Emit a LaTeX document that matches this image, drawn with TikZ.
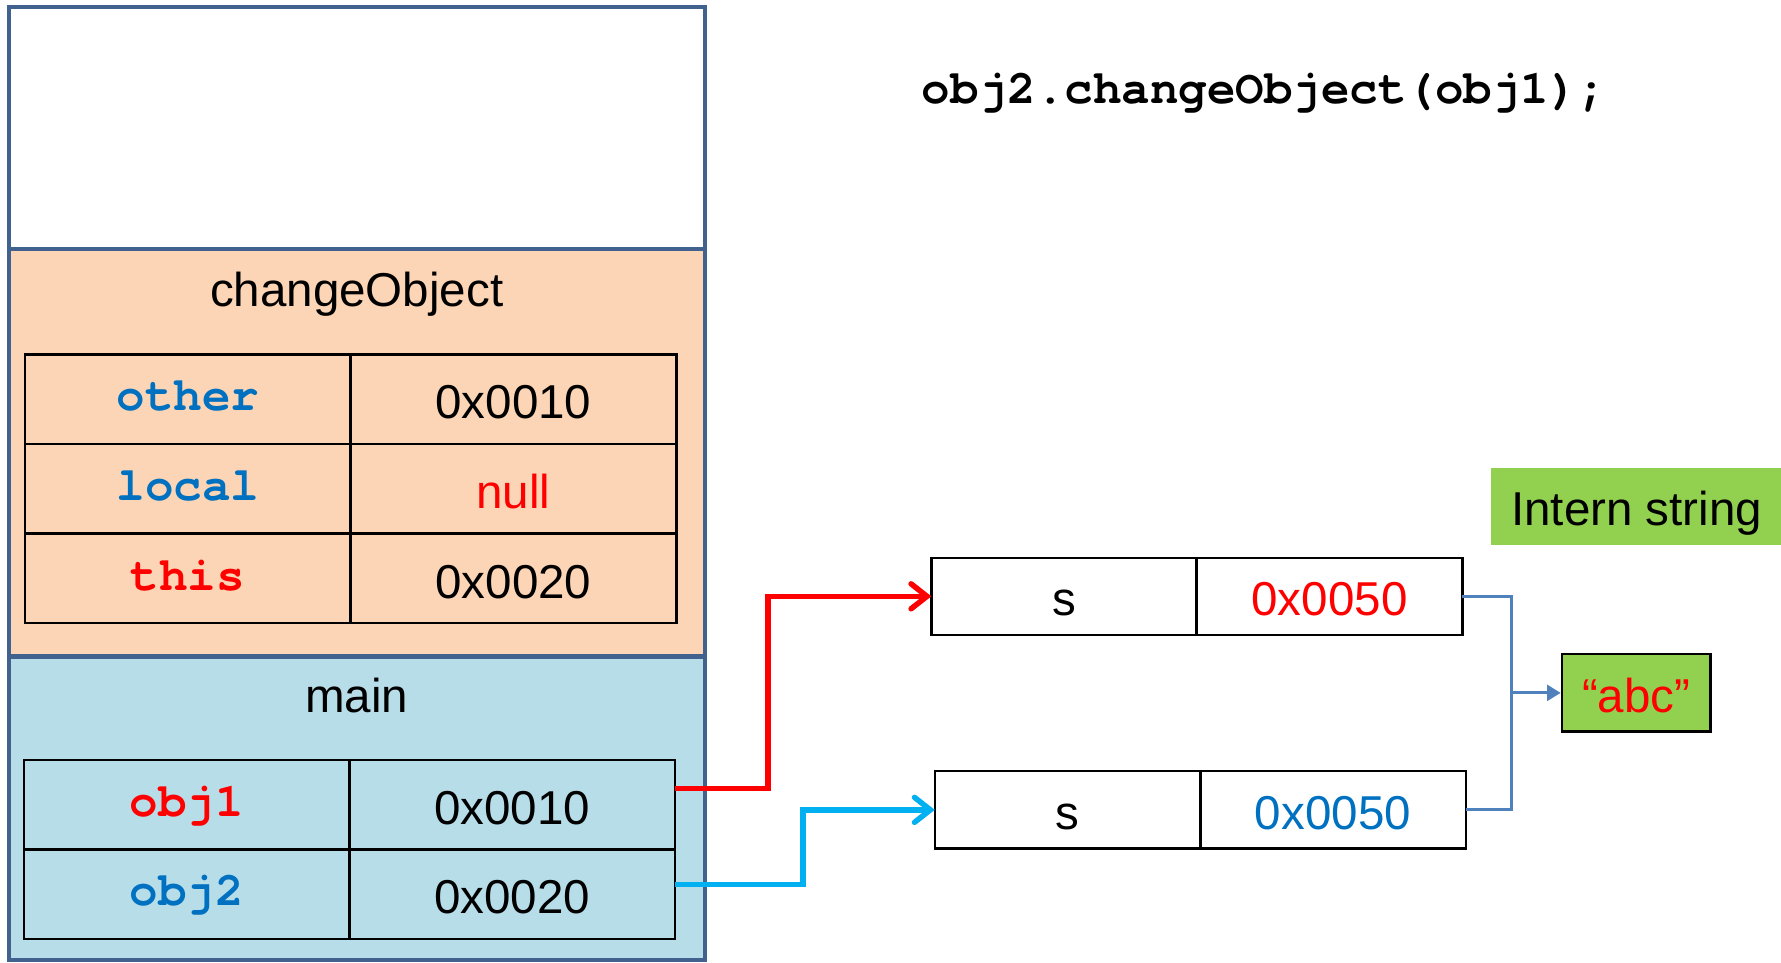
\documentclass[tikz,border=0pt]{standalone}
\usepackage{fontspec}
\setmainfont{Liberation Sans}
\newfontfamily\codefont{texgyrecursor}[Extension=.otf, UprightFont=*-regular, BoldFont=*-bold]
\usetikzlibrary{arrows.meta}

\definecolor{framecol}{RGB}{65,98,143}
\definecolor{peach}{RGB}{251,213,181}
\definecolor{lightblue}{RGB}{183,221,232}
\definecolor{keyblue}{RGB}{0,112,192}
\definecolor{keyred}{RGB}{255,0,0}
\definecolor{linkcyan}{RGB}{0,176,240}
\definecolor{steel}{RGB}{79,129,189}
\definecolor{leaf}{RGB}{146,208,80}

\tikzset{
  txt/.style={font=\fontsize{21}{25}\selectfont},
  code/.style={font=\fontsize{21}{25}\selectfont\codefont\bfseries},
  % value text sits with its baseline a little below the middle of the box
  lowtext/.style={text height=17bp, text depth=0bp},
  % variable names sit a little higher in their cells
  hightext/.style={text height=10bp, text depth=0bp},
  framerule/.style={draw=framecol, line width=1.8bp},
  cell/.style={draw=black, line width=1bp, inner sep=0pt, outer sep=0pt,
    minimum width=143.5bp, minimum height=39.3bp, txt, lowtext},
  keycell/.style={cell, code, hightext},
  heapcell/.style={draw=black, line width=1bp, inner sep=0pt, outer sep=0pt,
    minimum width=117bp, minimum height=34bp, txt, lowtext},
  barb/.style={-{Straight Barb[length=7bp,width=11bp,line width=2.4bp,line cap=round]}},
  redlink/.style={draw=keyred, line width=2.4bp, barb},
  cyanlink/.style={draw=linkcyan, line width=2.4bp, barb},
  steellink/.style={draw=steel, line width=1.3bp},
}

\begin{document}
\begin{tikzpicture}[x=0.5bp,y=-0.5bp]
\useasboundingbox (0,0) rectangle (1568,847);

% call stack sections
\fill[white]      (8,6)   rectangle (621,219);
\fill[peach]      (8,219) rectangle (621,578);
\fill[lightblue]  (8,578) rectangle (621,845);
\draw[framerule] (8,219) -- (621,219);
\draw[framerule] (8,578) -- (621,578);
\draw[framerule] (8,6) rectangle (621,845);

% frame titles
\node[txt, anchor=base] (cotitle) at (314,269.5) {changeObject};
\node[txt, anchor=base] (maintitle) at (314,627.5) {main};

% changeObject locals
\node[keycell, text=keyblue] (otherk) at (165.5,351.5) {other};
\node[cell]                  (otherv) at (452,351.5) {0x0010};
\node[keycell, text=keyblue] (localk) at (165.5,430.5) {local};
\node[cell, text=keyred]     (localv) at (452,430.5) {null};
\node[keycell, text=keyred]  (thisk)  at (165.5,509.5) {this};
\node[cell]                  (thisv)  at (452,509.5) {0x0020};

% main locals
\node[keycell, text=keyred]  (o1k) at (164.5,708.5) {obj1};
\node[cell]                  (o1v) at (451,708.5) {0x0010};
\node[keycell, text=keyblue] (o2k) at (164.5,787.5) {obj2};
\node[cell]                  (o2v) at (451,787.5) {0x0020};

% call being executed
\node[code, anchor=base] (call) at (1113,91) {obj2.changeObject(obj1);};

% heap objects
\node[heapcell] (s1a) at (937,525) {s};
\node[heapcell, text=keyred] (s1b) at (1170.5,525) {0x0050};
\node[heapcell] (s2a) at (940,713) {s};
\node[heapcell, text=keyblue] (s2b) at (1173.5,713) {0x0050};

% string pool
\node[fill=leaf, inner sep=0pt, minimum width=128bp, minimum height=34bp, txt, lowtext]
  (intern) at (1441,446) {Intern string};
\node[draw=black, fill=leaf, line width=1bp, inner sep=0pt,
  minimum width=65.5bp, minimum height=34bp, txt, lowtext, text=keyred]
  (abc) at (1440.5,610) {“abc”};

% references from main to the heap
\draw[redlink]  ([yshift=7.25bp]o1v.east) -| (676,525) -- (s1a.west);
\draw[cyanlink] ([yshift=4.5bp]o2v.east)  -| (707,713) -- (s2a.west);

% both fields point at the interned literal
\coordinate (join) at (1331,610);
\draw[steellink] (s1b.east) -| (1331,713) -- (s2b.east);
\draw[steellink, -{Triangle[length=6bp,width=7bp]}] (join) -- (abc.west);
\end{tikzpicture}
\end{document}
